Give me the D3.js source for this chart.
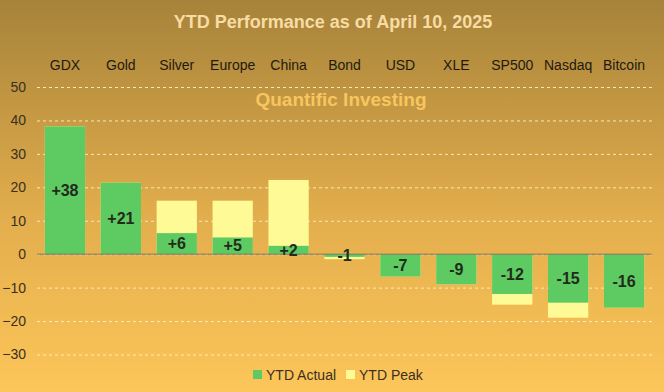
<!DOCTYPE html>
<html><head><meta charset="utf-8">
<script src="https://cdn.jsdelivr.net/npm/d3@7"></script>
<style>body{margin:0;padding:0;overflow:hidden}svg{display:block}</style>
</head><body>
<svg id="chart" width="664" height="392"></svg>
<script>
const categories = ["GDX","Gold","Silver","Europe","China","Bond","USD","XLE","SP500","Nasdaq","Bitcoin"];
const ytdActual = [38.2, 21.4, 6.3, 5.0, 2.5, -0.8, -6.7, -9.0, -11.9, -14.5, -16.0];
const ytdPeak   = [38.2, 21.4, 16.0, 16.0, 22.2, -1.5, -6.7, -9.0, -15.1, -19.0, -16.0];
const labels = ["+38","+21","+6","+5","+2","-1","-7","-9","-12","-15","-16"];
const yTicks = [50,40,30,20,10,0,-10,-20,-30];

const W = 664, H = 392;
const svg = d3.select("#chart");
const defs = svg.append("defs");
const grad = defs.append("linearGradient").attr("id","bg").attr("x1",0).attr("y1",0).attr("x2",0).attr("y2",1);
grad.append("stop").attr("offset","0%").attr("stop-color","#a6833a");
grad.append("stop").attr("offset","55%").attr("stop-color","#e2ad4c");
grad.append("stop").attr("offset","100%").attr("stop-color","#fdc65a");
svg.append("rect").attr("width",W).attr("height",H).attr("fill","url(#bg)");

const x = d3.scaleBand().domain(categories).range([37, 652]).paddingInner(0.28).paddingOuter(0.14);
const y = d3.scaleLinear().domain([-30, 50]).range([354.5, 87]);

// grid
const grid = svg.append("g").call(d3.axisLeft(y).tickValues(yTicks).tickSize(-(652-37)).tickFormat(""))
  .attr("transform","translate(37,0)");
grid.select(".domain").remove();
grid.selectAll("line").attr("stroke","#fff0c0").attr("stroke-dasharray","3,3").attr("stroke-width",1)
  .attr("opacity", 0.9);

// tick labels
const yAx = svg.append("g").attr("transform","translate(26,0)").call(d3.axisLeft(y).tickValues(yTicks).tickSize(0).tickPadding(0));
yAx.select(".domain").remove();
yAx.selectAll("text").attr("font-family","Liberation Sans, Arial, sans-serif").attr("font-size",14).attr("fill","#3a3020");

// title
svg.append("text").attr("x",333).attr("y",28).attr("text-anchor","middle")
  .attr("font-family","Liberation Sans, Arial, sans-serif").attr("font-weight","bold").attr("font-size",18)
  .attr("fill","#f8dca4").text("YTD Performance as of April 10, 2025");

// category labels on top
const xAx = svg.append("g").attr("transform","translate(0,70)").call(d3.axisTop(x).tickSize(0).tickPadding(0));
xAx.select(".domain").remove();
xAx.selectAll("text").attr("font-family","Liberation Sans, Arial, sans-serif").attr("font-size",14).attr("fill","#1e1a10");

// watermark
svg.append("text").attr("x",341).attr("y",106).attr("text-anchor","middle")
  .attr("font-family","Liberation Sans, Arial, sans-serif").attr("font-weight","bold").attr("font-size",19)
  .attr("fill","#f8c55e").text("Quantific Investing");

const data = categories.map((c,i)=>({c, a: ytdActual[i], p: ytdPeak[i], l: labels[i]}));

// peak bars
svg.append("g").selectAll("rect").data(data).join("rect")
  .attr("x", d=>x(d.c)).attr("width", x.bandwidth())
  .attr("y", d=>y(Math.max(0,d.p))).attr("height", d=>Math.abs(y(d.p)-y(0)))
  .attr("fill","#fefb96");
// actual bars
svg.append("g").selectAll("rect").data(data).join("rect")
  .attr("x", d=>x(d.c)).attr("width", x.bandwidth())
  .attr("y", d=>y(Math.max(0,d.a))).attr("height", d=>Math.abs(y(d.a)-y(0)))
  .attr("fill","#5dcb62");

// zero line
svg.append("line").attr("x1",37).attr("x2",652).attr("y1",y(0)).attr("y2",y(0))
  .attr("stroke","#7a7464").attr("stroke-width",1);

// value labels
svg.append("g").selectAll("text").data(data).join("text")
  .attr("x", d=>x(d.c)+x.bandwidth()/2).attr("y", d=>(y(d.a)+y(0))/2)
  .attr("dy","0.35em").attr("text-anchor","middle")
  .attr("font-family","Liberation Sans, Arial, sans-serif").attr("font-weight","bold").attr("font-size",16)
  .attr("fill","#222a1c").text(d=>d.l);

// legend
const lg = svg.append("g").attr("font-family","Liberation Sans, Arial, sans-serif").attr("font-size",14).attr("fill","#3a3020");
lg.append("rect").attr("x",253).attr("y",370).attr("width",9).attr("height",9).attr("fill","#5dcb62");
lg.append("text").attr("x",266).attr("y",380).text("YTD Actual");
lg.append("rect").attr("x",346).attr("y",370).attr("width",9).attr("height",9).attr("fill","#fefb96");
lg.append("text").attr("x",359).attr("y",380).text("YTD Peak");
</script>
</body></html>
